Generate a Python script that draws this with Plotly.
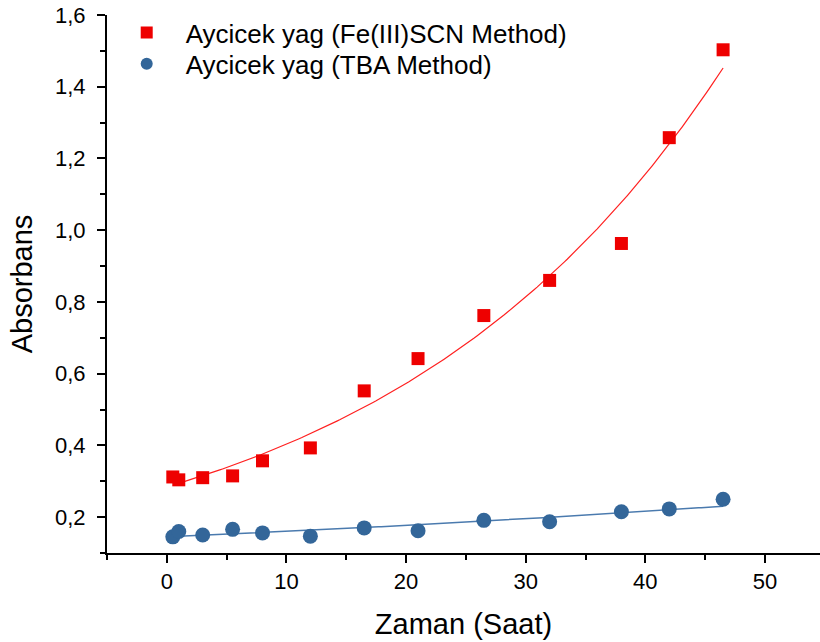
import numpy as np
import plotly.graph_objects as go

# Data
time_h = [0.5, 1, 3, 5.5, 8, 12, 16.5, 21, 26.5, 32, 38, 42, 46.5]
fe_scn = [0.312, 0.304, 0.310, 0.315, 0.357, 0.393, 0.552, 0.642, 0.762, 0.860, 0.963, 1.258, 1.503]
tba = [0.145, 0.160, 0.150, 0.166, 0.156, 0.147, 0.170, 0.162, 0.191, 0.187, 0.215, 0.223, 0.250]
name_fe = "Aycicek yag (Fe(III)SCN Method)"
name_tba = "Aycicek yag (TBA Method)"
x_ticks = [0, 10, 20, 30, 40, 50]
y_ticks = [0.2, 0.4, 0.6, 0.8, 1.0, 1.2, 1.4, 1.6]
y_ticktext = ["0,2", "0,4", "0,6", "0,8", "1,0", "1,2", "1,4", "1,6"]

red = "#EE0000"
blue = "#336699"

def exp_fit(x, y, x_eval):
    b, a = np.polyfit(np.array(x), np.log(np.array(y)), 1)
    return np.exp(a) * np.exp(b * x_eval)

xf = np.linspace(1, 46.5, 200)
fe_fit = exp_fit(time_h, fe_scn, xf)
tba_fit = exp_fit(time_h, tba, xf)

fig = go.Figure()
fig.add_trace(go.Scatter(x=xf, y=fe_fit, mode="lines", line=dict(color="#FF2020", width=1.2),
                         showlegend=False, hoverinfo="skip"))
fig.add_trace(go.Scatter(x=xf, y=tba_fit, mode="lines", line=dict(color="#4A7AAE", width=1.5),
                         showlegend=False, hoverinfo="skip"))
fig.add_trace(go.Scatter(x=time_h, y=fe_scn, mode="markers", name=name_fe, legend="legend",
                         marker=dict(symbol="square", size=13, color=red)))
fig.add_trace(go.Scatter(x=time_h, y=tba, mode="markers", name=name_tba, legend="legend2",
                         marker=dict(symbol="circle", size=15, color=blue)))

tick_font = dict(family="Liberation Sans, Arial", size=22, color="black")
axis_common = dict(showline=True, linecolor="black", linewidth=2, ticks="outside",
                   ticklen=8, tickwidth=2, tickcolor="black", showgrid=False, zeroline=False)

legend_common = dict(xanchor="left", yanchor="top", bgcolor="rgba(0,0,0,0)",
                     font=dict(size=26, color="black"), itemsizing="constant", itemwidth=68)

fig.update_layout(
    width=820, height=642,
    margin=dict(l=107, r=0, t=15, b=89),
    paper_bgcolor="white", plot_bgcolor="white",
    separators=",.",
    font=dict(family="Liberation Sans, Arial", color="black"),
    xaxis=dict(range=[-5, 54.6], tickvals=x_ticks, tickfont=tick_font,
               minor=dict(tickvals=[-5, 5, 15, 25, 35, 45], ticklen=5, tickwidth=2, tickcolor="black", ticks="outside"),
               title=dict(text="Zaman (Saat)", font=dict(size=29), standoff=20),
               **axis_common),
    yaxis=dict(range=[0.1, 1.6], tickvals=y_ticks, ticktext=y_ticktext, tickfont=tick_font,
               ticklabelstandoff=7,
               minor=dict(tickvals=[0.1, 0.3, 0.5, 0.7, 0.9, 1.1, 1.3, 1.5], ticklen=5, tickwidth=2, tickcolor="black", ticks="outside"),
               title=dict(text="Absorbans", font=dict(size=29), standoff=14),
               **axis_common),
    legend=dict(x=0.001, y=1.011, **legend_common),
    legend2=dict(x=0.001, y=0.953, **legend_common),
)

fig.write_html("out.html")
